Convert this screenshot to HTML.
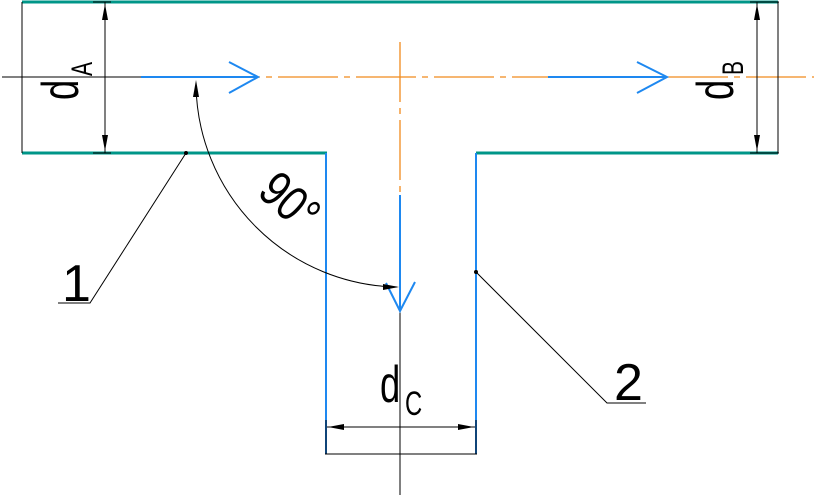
<!DOCTYPE html>
<html><head><meta charset="utf-8"><style>
html,body{margin:0;padding:0;background:#fff;width:814px;height:499px;overflow:hidden}
svg{display:block}
text{font-family:"Liberation Sans",sans-serif;fill:#000}
</style></head><body>
<svg width="814" height="499" viewBox="0 0 814 499" xmlns="http://www.w3.org/2000/svg">
<line x1="2" y1="77" x2="200" y2="77" stroke="#000" stroke-width="1"/>
<line x1="200" y1="77" x2="814" y2="77" stroke="#f08a1c" stroke-width="1.3" stroke-dasharray="60,6,6,6"/>
<line x1="400" y1="42" x2="400" y2="195" stroke="#f08a1c" stroke-width="1.3" stroke-dasharray="60,6,6,6"/>
<line x1="400" y1="277" x2="400" y2="495" stroke="#000" stroke-width="1"/>
<line x1="22" y1="2" x2="778" y2="2" stroke="#009688" stroke-width="3"/>
<line x1="22" y1="153" x2="327" y2="153" stroke="#009688" stroke-width="3"/>
<line x1="476" y1="153" x2="778" y2="153" stroke="#009688" stroke-width="3"/>
<line x1="326" y1="153" x2="326" y2="454" stroke="#1e88f0" stroke-width="2"/>
<line x1="476" y1="153" x2="476" y2="454" stroke="#1e88f0" stroke-width="2"/>
<line x1="325" y1="454" x2="477" y2="454" stroke="#000" stroke-width="1"/>
<line x1="22" y1="2" x2="22" y2="153" stroke="#000" stroke-width="1"/>
<line x1="778" y1="2" x2="778" y2="153" stroke="#000" stroke-width="1"/>
<g stroke="#1e88f0" stroke-width="2" fill="none">
<line x1="141" y1="77" x2="258" y2="77"/>
<polyline points="229,62 258,77 229,93"/>
<line x1="548" y1="77" x2="667" y2="77"/>
<polyline points="637,62 667,77 637,93"/>
<line x1="400" y1="195" x2="400" y2="310"/>
<polyline points="386,283 400,311 415,282"/>
</g>
<g stroke="#000" stroke-width="1">
<line x1="105" y1="2" x2="105" y2="153"/>
<line x1="93" y1="2" x2="111" y2="2"/>
<line x1="93" y1="153" x2="111" y2="153"/>
<line x1="757" y1="2" x2="757" y2="153"/>
<line x1="750" y1="2" x2="779" y2="2"/>
<line x1="750" y1="153" x2="779" y2="153"/>
<line x1="327" y1="427" x2="475" y2="427"/>
<line x1="326" y1="420" x2="326" y2="454"/>
<line x1="476" y1="420" x2="476" y2="454"/>
</g>
<g fill="#000">
<polygon points="105,4 102,20 108,20"/><polygon points="105,151 102,135 108,135"/>
<polygon points="757,4 754,20 760,20"/><polygon points="757,151 754,135 760,135"/>
<polygon points="328,427 344,424 344,430"/><polygon points="474,427 458,424 458,430"/>
</g>
<path d="M196,85 A205,205 0 0 0 397,287" fill="none" stroke="#000" stroke-width="1"/>
<polygon points="196,80 193,97 199,97" fill="#000"/>
<polygon points="399,287 383,284 383,290" fill="#000"/>
<g stroke="#000" stroke-width="1" fill="none">
<polyline points="186,153 90,303 58,303"/>
<polyline points="476,272 607,403 646,403"/>
</g>
<circle cx="186" cy="153" r="2" fill="#000"/>
<circle cx="476" cy="272" r="2" fill="#000"/>
<text x="62" y="301" font-size="52">1</text>
<text x="614" y="400" font-size="52">2</text>
<text transform="translate(380,402) scale(0.7,1)" font-size="52">d</text>
<text transform="translate(405,415) scale(0.7,1)" font-size="34">C</text>
<text transform="translate(78,100) rotate(-90) scale(0.7,1)" font-size="52">d</text>
<text transform="translate(92,76) rotate(-90) scale(0.7,1)" font-size="30">A</text>
<text transform="translate(733,100) rotate(-90) scale(0.7,1)" font-size="52">d</text>
<text transform="translate(743,75) rotate(-90) scale(0.7,1)" font-size="30">B</text>
<text transform="translate(256,194) rotate(42) scale(0.8,1)" font-size="50">90°</text>
</svg>
</body></html>
